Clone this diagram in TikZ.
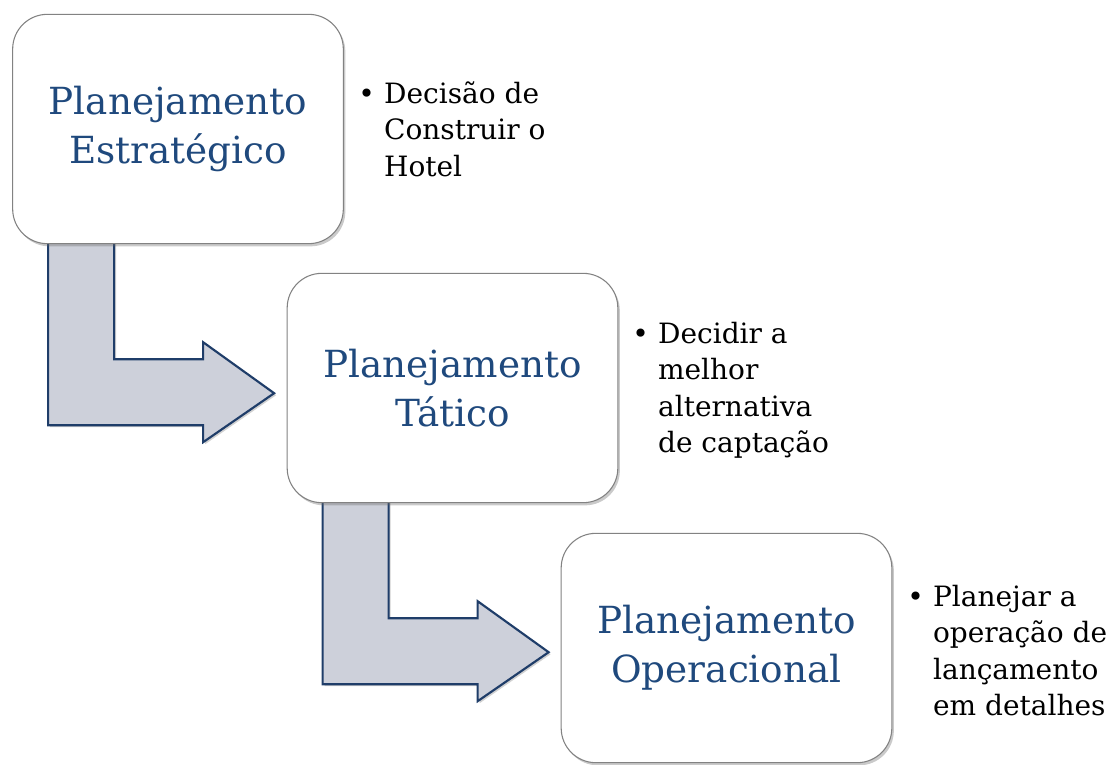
\documentclass[tikz,border=0pt]{standalone}
\usepackage{fontspec}
\setmainfont{DejaVu Serif}
\usetikzlibrary{positioning,shadows,calc}

\definecolor{titleblue}{RGB}{31,73,125}
\definecolor{arrowfill}{RGB}{205,208,218}
\definecolor{arrowline}{RGB}{31,61,105}
\definecolor{boxline}{RGB}{130,130,130}

\pgfdeclarelayer{background}
\pgfsetlayers{background,main}

\tikzset{
  levelbox/.style={draw=boxline, fill=white, line width=0.8pt, rounded corners=26pt,
    minimum width=248pt, minimum height=172pt, align=center, text=titleblue,
    font=\fontsize{28}{36.8}\selectfont,
    drop shadow={shadow xshift=1.5pt, shadow yshift=-2pt, fill=black!60, opacity=0.35}},
  bulletnote/.style={anchor=base west, inner sep=0pt, font=\fontsize{21}{27.4}\selectfont},
  bentarrow/.style={draw=arrowline, fill=arrowfill, line width=1.6pt, line join=miter,
    drop shadow={shadow xshift=1.5pt, shadow yshift=-1.5pt, fill=black!60, opacity=0.3}}
}

\newcommand{\notelist}[1]{\begin{tabular}[t]{@{}l@{\hspace{7pt}}l@{}}#1\end{tabular}}

\begin{document}
\begin{tikzpicture}[x=0.75pt, y=-0.75pt]
\useasboundingbox (0,0) rectangle (1112,764);

\node [levelbox] (strat) at (178,129) {Planejamento\\Estratégico};
\node [levelbox] (tat)   at (452.5,388) {Planejamento\\Tático};
\node [levelbox] (oper)  at (726.5,648) {Planejamento\\Operacional};

\node [bulletnote] (stratnote) at (358,103)
  {\notelist{\textbullet & Decisão de\\ & Construir o\\ & Hotel}};
\node [bulletnote] (tatnote) at (632,343)
  {\notelist{\textbullet & Decidir a\\ & melhor\\ & alternativa\\ & de captação}};
\node [bulletnote] (opernote) at (907,606)
  {\notelist{\textbullet & Planejar a\\ & operação de\\ & lançamento\\ & em detalhes}};

\begin{pgfonlayer}{background}
\foreach \from in {strat, tat}
  \draw [bentarrow] ($(\from.south west)+(36,-6)$) -- ++(66,0) -- ++(0,121)
    -- ++(89,0) -- ++(0,-17) -- ++(71,51) -- ++(-71,49) -- ++(0,-17)
    -- ++(-155,0) -- cycle;
\end{pgfonlayer}

\end{tikzpicture}
\end{document}
